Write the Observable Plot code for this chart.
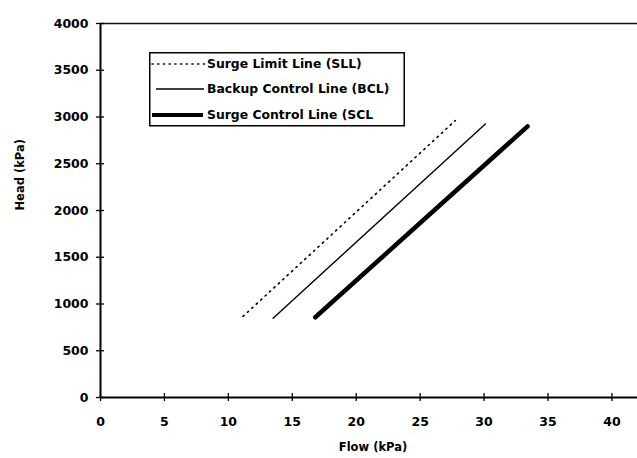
<!DOCTYPE html>
<html>
<head>
<meta charset="utf-8">
<script src="https://cdn.jsdelivr.net/npm/d3@7"></script>
<script src="https://cdn.jsdelivr.net/npm/@observablehq/plot@0.6"></script>
<style>
  html, body { margin: 0; padding: 0; background: #fff; }
  #wrap { position: relative; width: 637px; height: 458px; font-family: "DejaVu Sans", "Liberation Sans", Arial, sans-serif; }
  #legend { position: absolute; left: 149px; top: 52px; }
</style>
</head>
<body>
<div id="wrap"></div>
<script>
// Series names
const seriesNames = ["Surge Limit Line (SLL)", "Backup Control Line (BCL)", "Surge Control Line (SCL"];
// Surge Limit Line
const sllFlow = [11.15, 27.75];
const sllHead = [868, 2962];
// Backup Control Line
const bclFlow = [13.5, 30.1];
const bclHead = [848, 2926];
// Surge Control Line
const sclFlow = [16.8, 33.4];
const sclHead = [858, 2900];
// Tick values
const xTicks = [0, 5, 10, 15, 20, 25, 30, 35, 40];
const yTicks = [0, 500, 1000, 1500, 2000, 2500, 3000, 3500, 4000];

const toRows = (fx, hy) => fx.map((f, i) => ({flow: f, head: hy[i]}));
const sll = toRows(sllFlow, sllHead);
const bcl = toRows(bclFlow, bclHead);
const scl = toRows(sclFlow, sclHead);

const font = '"DejaVu Sans", "Liberation Sans", Arial, sans-serif';
const fmt = d => String(d);

const chart = Plot.plot({
  width: 637,
  height: 458,
  marginLeft: 100,
  marginRight: 0,
  marginTop: 23,
  marginBottom: 61,
  style: {fontFamily: font, fontWeight: "bold", fontSize: "12px", color: "#000", background: "#fff"},
  x: {domain: [0, 42], label: null},
  y: {domain: [0, 4000], label: null},
  marks: [
    Plot.ruleY([4000], {stroke: "#111", strokeWidth: 1.5}),
    Plot.ruleX([0], {stroke: "#000", strokeWidth: 2}),
    Plot.ruleY([0], {stroke: "#000", strokeWidth: 2}),
    Plot.axisY(yTicks, {tickSize: 8, dx: 4, text: null, label: null, stroke: "#000", strokeWidth: 1.3}),
    Plot.axisY(yTicks, {tickSize: 0, tickPadding: 12, label: null, tickFormat: fmt, fontSize: 12.5, fontWeight: "bold", fill: "#000"}),
    Plot.axisX(xTicks, {tickSize: 8, dy: -4, text: null, label: null, stroke: "#000", strokeWidth: 1.3}),
    Plot.axisX(xTicks, {tickSize: 0, tickPadding: 20, label: null, tickFormat: fmt, fontSize: 12.5, fontWeight: "bold", fill: "#000"}),
    Plot.line(sll, {x: "flow", y: "head", stroke: "#000", strokeWidth: 1.6, strokeDasharray: "1.4,4.6", strokeLinecap: "round"}),
    Plot.line(bcl, {x: "flow", y: "head", stroke: "#000", strokeWidth: 1.4}),
    Plot.line(scl, {x: "flow", y: "head", stroke: "#000", strokeWidth: 4.5, strokeLinecap: "round"}),
    Plot.text(["Head (kPa)"], {frameAnchor: "left", dx: -80, rotate: -90, fontSize: 11.5, fontWeight: "bold", fill: "#000"}),
    Plot.text(["Flow (kPa)"], {frameAnchor: "bottom", dx: 4, dy: 53, fontSize: 11.5, fontWeight: "bold", fill: "#000"})
  ]
});
document.getElementById("wrap").appendChild(chart);

// Legend (overlay inside plot area)
const lg = d3.select("#wrap").append("svg")
  .attr("id", "legend")
  .attr("width", 257).attr("height", 76)
  .style("font-family", font);
lg.append("rect").attr("x", 0.75).attr("y", 0.75).attr("width", 254.5).attr("height", 73)
  .attr("fill", "#fff").attr("stroke", "#000").attr("stroke-width", 1.5);
const styles = [
  {w: 1.4, dash: "1.2,4.5", cap: "round", x1: 3, x2: 56},
  {w: 1.4, dash: null, cap: "butt", x1: 7, x2: 55},
  {w: 4, dash: null, cap: "butt", x1: 3, x2: 54}
];
const rowY = [12, 37, 63];
seriesNames.forEach((name, i) => {
  const s = styles[i];
  const ln = lg.append("line").attr("x1", s.x1).attr("x2", s.x2).attr("y1", rowY[i]).attr("y2", rowY[i])
    .attr("stroke", "#000").attr("stroke-width", s.w).attr("stroke-linecap", s.cap);
  if (s.dash) ln.attr("stroke-dasharray", s.dash);
  lg.append("text").attr("x", 58).attr("y", rowY[i]).attr("dy", "0.36em")
    .attr("font-size", 12.4).attr("font-weight", "bold").attr("fill", "#000").text(name);
});
</script>
</body>
</html>
